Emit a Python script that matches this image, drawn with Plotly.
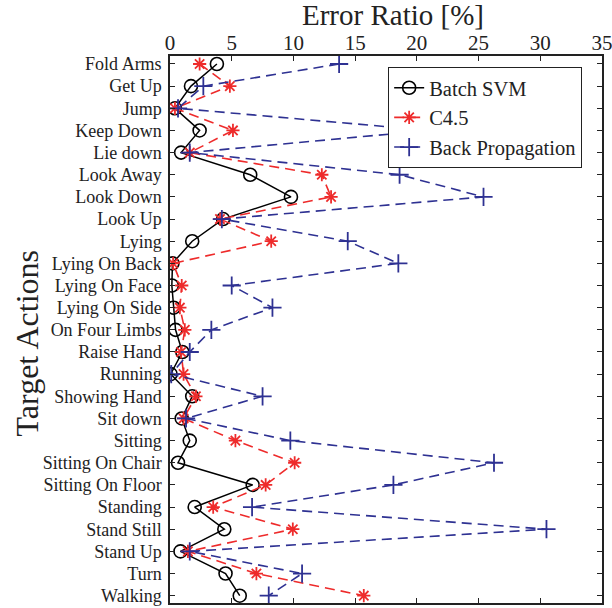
import plotly.graph_objects as go

categories = ["Fold Arms", "Get Up", "Jump", "Keep Down", "Lie down", "Look Away",
              "Look Down", "Look Up", "Lying", "Lying On Back", "Lying On Face",
              "Lying On Side", "On Four Limbs", "Raise Hand", "Running", "Showing Hand",
              "Sit down", "Sitting", "Sitting On Chair", "Sitting On Floor", "Standing",
              "Stand Still", "Stand Up", "Turn", "Walking"]

batch_svm = [3.8, 1.7, 0.4, 2.4, 0.9, 6.5, 9.8, 4.3, 1.8, 0.2, 0.15, 0.3, 0.45, 1.0,
             0.05, 1.8, 0.95, 1.6, 0.65, 6.7, 2.0, 4.4, 0.85, 4.5, 5.65]
c45 = [2.4, 4.85, 0.4, 5.1, 1.6, 12.3, 13.05, 4.05, 8.2, 0.25, 0.95, 0.8, 1.2, 0.9,
       1.1, 2.1, 1.1, 5.3, 10.1, 7.75, 3.5, 9.95, 1.45, 7.0, 15.7]
back_prop = [13.7, 2.7, 0.65, 21.0, 1.6, 18.6, 25.4, 4.2, 14.4, 18.5, 5.0, 8.3, 3.35,
             1.6, 0.1, 7.5, 1.3, 9.75, 26.25, 18.1, 6.65, 30.5, 1.6, 10.7, 8.0]

x_ticks = [0, 5, 10, 15, 20, 25, 30, 35]

FONT = "Liberation Serif, Times New Roman, serif"
RED = "#EE2B2B"
BLUE = "#2E3192"
INK = "#222222"

fig = go.Figure()
fig.add_trace(go.Scatter(
    x=batch_svm, y=categories, name="Batch SVM", mode="lines+markers",
    line=dict(color="black", width=1.5),
    marker=dict(symbol="circle-open", size=13, color="black", line=dict(width=1.6)),
))
fig.add_trace(go.Scatter(
    x=c45, y=categories, name="C4.5", mode="lines+markers",
    line=dict(color=RED, width=1.6, dash="10px,6px"),
    marker=dict(symbol="asterisk-open", size=11, color=RED, line=dict(width=1.8, color=RED)),
))
fig.add_trace(go.Scatter(
    x=back_prop, y=categories, name="Back Propagation", mode="lines+markers",
    line=dict(color=BLUE, width=1.6, dash="10px,6px"),
    marker=dict(symbol="cross-thin-open", size=13, color=BLUE, line=dict(width=1.8, color=BLUE)),
))

fig.update_layout(
    width=612, height=608,
    margin=dict(l=170, r=10, t=56, b=5, autoexpand=False),
    paper_bgcolor="white", plot_bgcolor="white",
    font=dict(family=FONT, color=INK, size=18),
    showlegend=True,
    legend=dict(
        x=0.505, y=0.98, xanchor="left", yanchor="top",
        bgcolor="white", bordercolor=INK, borderwidth=1,
        font=dict(family=FONT, size=20.5, color=INK),
        tracegroupgap=0, itemwidth=30,
    ),
    xaxis=dict(
        side="top", range=[0, 35], tickmode="array", tickvals=x_ticks,
        ticks="inside", ticklen=5, tickwidth=1, tickcolor=INK,
        showline=True, linecolor=INK, linewidth=1.5, mirror="ticks",
        showgrid=False, zeroline=False, automargin=False,
        tickfont=dict(family=FONT, size=21, color=INK),
        ticklabelstandoff=-4, ticklabeloverflow="allow",
    ),
    yaxis=dict(
        type="category", categoryorder="array", categoryarray=categories,
        tickmode="array", tickvals=categories, ticktext=categories,
        range=[24.33, -0.36],
        ticks="inside", ticklen=5, tickwidth=1, tickcolor=INK,
        showline=True, linecolor=INK, linewidth=1.5, mirror="ticks",
        showgrid=False, zeroline=False, automargin=False,
        tickfont=dict(family=FONT, size=18, color=INK),
        ticklabelstandoff=3,
    ),
    annotations=[
        dict(text="Error Ratio [%]", xref="paper", yref="paper", x=0.516, y=1.075,
             xanchor="center", yanchor="middle", showarrow=False,
             font=dict(family=FONT, size=29, color=INK)),
        dict(text="Target Actions", xref="paper", yref="paper", x=-0.33, y=0.4753,
             xanchor="center", yanchor="middle", showarrow=False, textangle=-90,
             font=dict(family=FONT, size=32, color=INK)),
    ],
)

fig.write_html("out.html", config={"displayModeBar": False},
               post_script="document.body.style.margin='0';")
